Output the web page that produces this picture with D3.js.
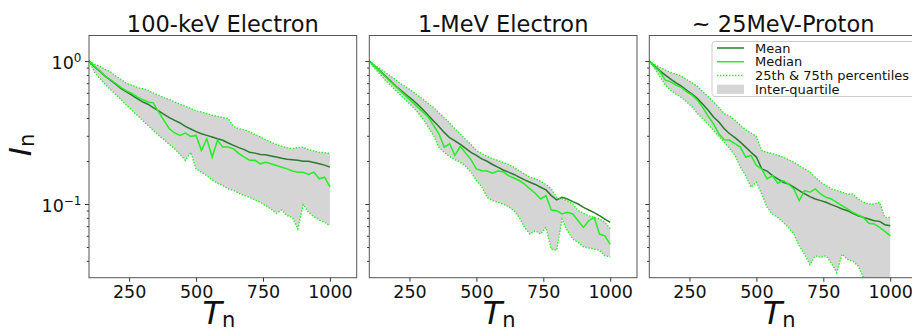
<!DOCTYPE html>
<html>
<head>
<meta charset="utf-8">
<script src="https://cdn.jsdelivr.net/npm/d3@7"></script>
<style>
  body { margin: 0; background: #fff; }
  svg { display: block; font-family: "DejaVu Sans", sans-serif; }
</style>
</head>
<body>
<svg id="chart" width="912" height="331"></svg>
<script>
// normalised time steps shared by all panels
const tn = [100, 120, 140, 160, 180, 200, 220, 240, 260, 280, 300, 320, 340, 360, 380, 400,
  420, 440, 460, 480, 500, 520, 540, 560, 580, 600, 620, 640, 660, 680, 700, 720, 740, 760,
  780, 800, 820, 840, 860, 880, 900, 920, 940, 960, 980, 1000];

const titles = ["100-keV Electron", "1-MeV Electron", "~ 25MeV-Proton"];

// 100-keV electron
const mean1 = [1.000, 0.912, 0.851, 0.785, 0.736, 0.689, 0.642, 0.609, 0.577, 0.546, 0.518, 0.499,
  0.473, 0.448, 0.424, 0.402, 0.385, 0.369, 0.349, 0.335, 0.321, 0.310, 0.302, 0.294, 0.286, 0.279,
  0.267, 0.257, 0.248, 0.240, 0.230, 0.227, 0.222, 0.221, 0.217, 0.213, 0.209, 0.206, 0.204, 0.202,
  0.199, 0.199, 0.195, 0.191, 0.187, 0.181];
const median1 = [1.000, 0.922, 0.855, 0.785, 0.743, 0.697, 0.653, 0.619, 0.593, 0.562, 0.538, 0.518,
  0.510, 0.441, 0.385, 0.336, 0.314, 0.302, 0.314, 0.297, 0.302, 0.237, 0.286, 0.213, 0.279, 0.250,
  0.250, 0.243, 0.225, 0.213, 0.202, 0.202, 0.191, 0.196, 0.191, 0.186, 0.181, 0.176, 0.170, 0.167,
  0.167, 0.161, 0.167, 0.150, 0.154, 0.132];
const p75_1 = [1.000, 0.953, 0.922, 0.874, 0.841, 0.785, 0.743, 0.697, 0.679, 0.653, 0.642, 0.625,
  0.599, 0.577, 0.555, 0.538, 0.518, 0.499, 0.483, 0.465, 0.448, 0.441, 0.429, 0.418, 0.411, 0.402,
  0.396, 0.349, 0.336, 0.331, 0.319, 0.307, 0.294, 0.282, 0.271, 0.261, 0.253, 0.248, 0.244, 0.248,
  0.250, 0.240, 0.235, 0.230, 0.229, 0.225];
const p25_1 = [1.000, 0.841, 0.756, 0.689, 0.632, 0.583, 0.538, 0.491, 0.453, 0.418, 0.385, 0.355,
  0.327, 0.302, 0.282, 0.261, 0.244, 0.222, 0.202, 0.230, 0.176, 0.167, 0.158, 0.1475, 0.1397, 0.1346,
  0.1275, 0.1242, 0.1189, 0.1145, 0.1114, 0.1067, 0.1028, 0.0974, 0.0923, 0.0860, 0.0908, 0.0828,
  0.0806, 0.0668, 0.0990, 0.0874, 0.0815, 0.0772, 0.0744, 0.0704];

// 1-MeV electron
const mean2 = [1.000, 0.922, 0.851, 0.785, 0.724, 0.667, 0.619, 0.577, 0.538, 0.499, 0.458, 0.418,
  0.381, 0.349, 0.317, 0.291, 0.276, 0.261, 0.245, 0.230, 0.219, 0.207, 0.199, 0.189, 0.181, 0.173,
  0.167, 0.161, 0.154, 0.1475, 0.142, 0.137, 0.131, 0.1255, 0.1145, 0.1067, 0.1114, 0.1085, 0.1039,
  0.1000, 0.0948, 0.0908, 0.0870, 0.0828, 0.0785, 0.0744];
const median2 = [1.000, 0.922, 0.846, 0.780, 0.716, 0.660, 0.609, 0.562, 0.518, 0.478, 0.441, 0.406,
  0.355, 0.310, 0.250, 0.264, 0.219, 0.253, 0.227, 0.204, 0.176, 0.171, 0.170, 0.164, 0.170, 0.168,
  0.158, 0.152, 0.146, 0.138, 0.1275, 0.1189, 0.1085, 0.1145, 0.0908, 0.0898, 0.0851, 0.0874, 0.0851,
  0.0764, 0.0686, 0.0764, 0.0806, 0.0616, 0.0598, 0.0522];
const p75_2 = [1.000, 0.937, 0.888, 0.832, 0.785, 0.735, 0.689, 0.653, 0.616, 0.577, 0.541, 0.504,
  0.473, 0.434, 0.402, 0.369, 0.336, 0.310, 0.282, 0.261, 0.237, 0.225, 0.215, 0.208, 0.202, 0.195,
  0.189, 0.181, 0.171, 0.162, 0.154, 0.150, 0.144, 0.137, 0.1275, 0.1114, 0.1085, 0.1056, 0.1000,
  0.0898, 0.0860, 0.0828, 0.0806, 0.0785, 0.0744, 0.0671];
const p25_2 = [1.000, 0.888, 0.810, 0.735, 0.674, 0.619, 0.571, 0.526, 0.483, 0.441, 0.395, 0.346,
  0.302, 0.250, 0.230, 0.215, 0.204, 0.196, 0.183, 0.167, 0.146, 0.132, 0.1114, 0.1056, 0.1028, 0.1000,
  0.0958, 0.0898, 0.0806, 0.0686, 0.0616, 0.0650, 0.0616, 0.0686, 0.0483, 0.0475, 0.0785, 0.0650,
  0.0568, 0.0539, 0.0502, 0.0492, 0.0483, 0.0475, 0.0434, 0.0427];

// ~25-MeV proton
const mean3 = [1.000, 0.922, 0.855, 0.797, 0.747, 0.704, 0.667, 0.625, 0.587, 0.546, 0.499, 0.453,
  0.406, 0.375, 0.336, 0.310, 0.291, 0.271, 0.250, 0.230, 0.213, 0.176, 0.170, 0.158, 0.150, 0.142,
  0.138, 0.131, 0.124, 0.118, 0.1126, 0.1085, 0.1056, 0.1028, 0.0990, 0.0958, 0.0923, 0.0898, 0.0860,
  0.0828, 0.0806, 0.0785, 0.0764, 0.0756, 0.0716, 0.0704];
const median3 = [1.000, 0.912, 0.841, 0.735, 0.716, 0.679, 0.653, 0.609, 0.577, 0.532, 0.473, 0.411,
  0.364, 0.310, 0.282, 0.279, 0.264, 0.250, 0.213, 0.219, 0.186, 0.176, 0.150, 0.158, 0.1397, 0.146,
  0.138, 0.1275, 0.1056, 0.1242, 0.1208, 0.1275, 0.1176, 0.1114, 0.1085, 0.1028, 0.0974, 0.0923,
  0.0874, 0.0837, 0.0806, 0.0732, 0.0725, 0.0686, 0.0643, 0.0598];
const p75_3 = [1.000, 0.948, 0.903, 0.865, 0.832, 0.810, 0.785, 0.743, 0.704, 0.667, 0.609, 0.562,
  0.518, 0.473, 0.429, 0.411, 0.385, 0.355, 0.331, 0.314, 0.297, 0.237, 0.230, 0.225, 0.219, 0.213,
  0.204, 0.196, 0.186, 0.176, 0.167, 0.154, 0.142, 0.135, 0.1275, 0.1242, 0.1208, 0.1176, 0.1176,
  0.1085, 0.1028, 0.1000, 0.1000, 0.1028, 0.0806, 0.0806];
const p25_3 = [1.000, 0.888, 0.776, 0.679, 0.625, 0.587, 0.555, 0.518, 0.478, 0.429, 0.395, 0.361,
  0.327, 0.297, 0.271, 0.244, 0.219, 0.181, 0.158, 0.131, 0.142, 0.1176, 0.0948, 0.0851, 0.0806,
  0.0744, 0.0686, 0.0616, 0.0510, 0.0445, 0.0377, 0.0434, 0.0423, 0.0434, 0.0387, 0.0331, 0.0445,
  0.0410, 0.0398, 0.0369, 0.0306, 0.0293, 0.0282, 0.0274, 0.0267, 0.0260];

const xTicks = [250, 500, 750, 1000];
const yMajor = [0.1, 1];
const yMinor = [0.04, 0.05, 0.06, 0.07, 0.08, 0.09, 0.2, 0.3, 0.4, 0.5, 0.6, 0.7, 0.8, 0.9];
const yExp = ["\u22121", "0"];
const legendLabels = ["Mean", "Median", "25th & 75th percentiles", "Inter-quartile"];

const panels = [
  { mean: mean1, median: median1, p25: p25_1, p75: p75_1 },
  { mean: mean2, median: median2, p25: p25_2, p75: p75_2 },
  { mean: mean3, median: median3, p25: p25_3, p75: p75_3 },
];

const svg = d3.select("#chart");
const lefts = [89, 369.3, 649.3];
const pw = 267.7, panelTop = 35.5, panelBottom = 277.7, ph = panelBottom - panelTop;

const meanColor = "#2b7a2b", medianColor = "#22ee22", fillColor = "#d5d5d5";
const dots = "1.4,1.6";

const x = d3.scaleLinear().domain([100, 1100]).range([0, pw]);
const y = d3.scaleLog().domain([0.0305, 1.51]).range([ph, 0]);

const line = (vals) => d3.line()
  .x((d, i) => x(tn[i]))
  .y((d) => y(d))(vals);

const area = d3.area()
  .x((d) => x(d.t))
  .y0((d) => y(d.lo))
  .y1((d) => y(d.hi));

panels.forEach((p, k) => {
  const g = svg.append("g").attr("transform", `translate(${lefts[k]},${panelTop})`);

  g.append("clipPath").attr("id", "clip" + k)
    .append("rect").attr("width", pw).attr("height", ph);

  const plot = g.append("g").attr("clip-path", `url(#clip${k})`);

  const band = tn.map((t, i) => ({ t, lo: p.p25[i], hi: p.p75[i] }));
  plot.append("path").attr("d", area(band)).attr("fill", fillColor);

  plot.append("path").attr("d", line(p.mean))
    .attr("fill", "none").attr("stroke", meanColor).attr("stroke-width", 1.5);
  plot.append("path").attr("d", line(p.median))
    .attr("fill", "none").attr("stroke", medianColor).attr("stroke-width", 1.5);
  [p.p25, p.p75].forEach((s) => {
    plot.append("path").attr("d", line(s))
      .attr("fill", "none").attr("stroke", medianColor).attr("stroke-width", 1.4)
      .attr("stroke-dasharray", dots);
  });

  // x axis
  const xa = g.append("g").attr("transform", `translate(0,${ph})`)
    .call(d3.axisBottom(x).tickValues(xTicks).tickFormat(d3.format("d"))
      .tickSize(4).tickPadding(4));
  xa.select(".domain").remove();
  xa.selectAll("line").attr("stroke", "#333");
  xa.selectAll("text").attr("font-size", 17.5).attr("fill", "#111")
    .attr("font-family", "DejaVu Sans");

  // y axis, minor then major
  const ym = g.append("g")
    .call(d3.axisLeft(y).tickValues(yMinor).tickSize(2.2).tickFormat(""));
  ym.select(".domain").remove();
  ym.selectAll("line").attr("stroke", "#333");

  const yaM = g.append("g")
    .call(d3.axisLeft(y).tickValues(yMajor).tickSize(4).tickPadding(3.5).tickFormat(""));
  yaM.select(".domain").remove();
  yaM.selectAll("line").attr("stroke", "#333");
  if (k === 0) {
    yaM.selectAll("text").each(function (d, i) {
      const t = d3.select(this).attr("dy", null).attr("y", 7.3)
        .attr("font-size", 17.5).attr("fill", "#111").attr("font-family", "DejaVu Sans");
      t.text(null);
      t.append("tspan").text("10");
      t.append("tspan").attr("font-size", 12).attr("dy", -7).text(yExp[i]);
    });
  }

  // frame
  g.append("rect").attr("width", pw).attr("height", ph)
    .attr("fill", "none").attr("stroke", "#555").attr("stroke-width", 1);

  // title
  g.append("text").attr("x", pw / 2).attr("y", -3.8)
    .attr("text-anchor", "middle").attr("font-size", 22.5).attr("fill", "#111")
    .text(titles[k]);

  // x label
  const xl = g.append("text").attr("x", pw / 2 - 4).attr("y", ph + 46.5)
    .attr("text-anchor", "middle").attr("fill", "#111");
  xl.append("tspan").attr("font-size", 32).attr("font-style", "italic").text("T");
  xl.append("tspan").attr("font-size", 21).attr("dy", 3).text("n");

  if (k === 2) {
    const lg = g.append("g").attr("transform", `translate(${712 - lefts[2]},${41.5 - panelTop})`);
    lg.append("rect").attr("width", 205).attr("height", 55).attr("rx", 3)
      .attr("fill", "#fff").attr("fill-opacity", 0.8)
      .attr("stroke", "#cccccc").attr("stroke-width", 1);
    const rowY = [6.5, 20.2, 34, 47.8];
    legendLabels.forEach((lab, i) => {
      const yy = rowY[i];
      if (i === 3) {
        lg.append("rect").attr("x", 5).attr("y", yy - 4.6).attr("width", 27).attr("height", 9.2)
          .attr("fill", fillColor);
      } else {
        lg.append("line").attr("x1", 5).attr("x2", 32).attr("y1", yy).attr("y2", yy)
          .attr("stroke", i === 0 ? meanColor : medianColor)
          .attr("stroke-width", i === 2 ? 1.4 : 1.5)
          .attr("stroke-dasharray", i === 2 ? dots : null);
      }
      lg.append("text").attr("x", 43).attr("y", yy + 4.7).attr("font-size", 13)
        .attr("fill", "#111").text(lab);
    });
  }
});

// y label
const yl = svg.append("text").attr("transform", "translate(31,145) rotate(-90)")
  .attr("text-anchor", "middle").attr("fill", "#111");
yl.append("tspan").attr("font-size", 31).attr("font-style", "italic").text("I");
yl.append("tspan").attr("font-size", 21).attr("dy", 3).text("n");
</script>
</body>
</html>
